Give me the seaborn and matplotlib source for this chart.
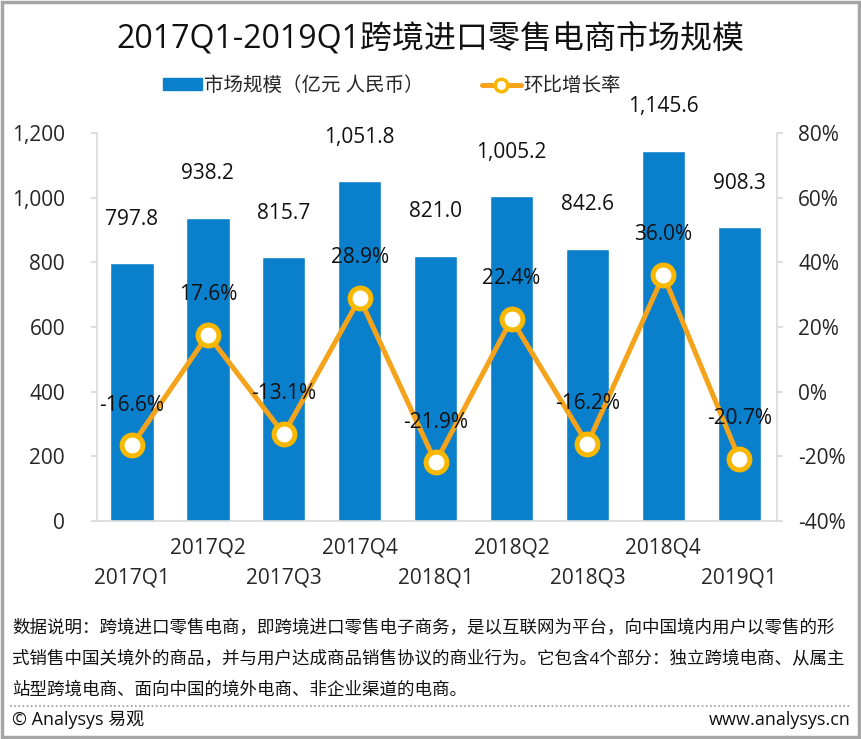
import numpy as np
import pandas as pd
import matplotlib
matplotlib.use("Agg")
import matplotlib.pyplot as plt
import seaborn as sns
from matplotlib.patches import Rectangle
from matplotlib.lines import Line2D
from matplotlib.patches import Patch

quarters = ["2017Q1", "2017Q2", "2017Q3", "2017Q4", "2018Q1",
            "2018Q2", "2018Q3", "2018Q4", "2019Q1"]
market_size = [797.8, 938.2, 815.7, 1051.8, 821.0, 1005.2, 842.6, 1145.6, 908.3]
growth = [-16.6, 17.6, -13.1, 28.9, -21.9, 22.4, -16.2, 36.0, -20.7]

title = "2017Q1-2019Q1跨境进口零售电商市场规模"
bar_name = "市场规模（亿元 人民币）"
line_name = "环比增长率"
note_lines = [
    "数据说明：跨境进口零售电商，即跨境进口零售电子商务，是以互联网为平台，向中国境内用户以零售的形",
    "式销售中国关境外的商品，并与用户达成商品销售协议的商业行为。它包含4个部分：独立跨境电商、从属主",
    "站型跨境电商、面向中国的境外电商、非企业渠道的电商。",
]

df = pd.DataFrame({"quarter": quarters, "size": market_size, "growth": growth})

sns.set_theme(style="white")
# Latin glyphs from Open Sans, Chinese from Noto Sans CJK
plt.rcParams["font.family"] = ["Open Sans", "Noto Sans CJK SC", "DejaVu Sans"]

blue = "#0A7FCB"
orange = "#F5A31A"
marker_edge = "#F9B800"

fig = plt.figure(figsize=(8.61, 7.39), dpi=100)
ax = fig.add_axes([0.1127, 0.295, 0.79, 0.525])

sns.barplot(data=df, x="quarter", y="size", color=blue, width=0.57,
            saturation=1, ax=ax)
ax.set_ylim(0, 1200)
ax.set_xlim(-0.46, len(quarters) - 0.5)
ax.set_yticks(np.arange(0, 1201, 200))
ax.set_yticklabels([f"{v:,}" for v in range(0, 1201, 200)], fontsize=15)
ax.set_xlabel("")
ax.set_ylabel("")
ax.bar_label(ax.containers[0], labels=[f"{v:,.1f}" for v in market_size],
             padding=24, fontsize=15, color="#111111")

# staggered quarter labels: Q1/Q3 on the lower row, Q2/Q4 on the upper row
ax.set_xticks(range(len(quarters)))
ax.set_xticklabels(quarters, fontsize=15)
ax.tick_params(axis="x", length=0)
for i, tick in enumerate(ax.xaxis.get_major_ticks()):
    tick.set_pad(12 if i % 2 else 33.5)
ax.tick_params(axis="y", length=4, color="#D9D9D9", pad=19, left=True)

for side in ["top", "right"]:
    ax.spines[side].set_visible(False)
for side in ["left", "bottom"]:
    ax.spines[side].set_color("#D9D9D9")
    ax.spines[side].set_linewidth(1.2)

ax2 = ax.twinx()
sns.lineplot(x=np.arange(len(quarters)), y=growth, ax=ax2, color=orange,
             linewidth=3.6, marker="o", markersize=15, markerfacecolor="white",
             markeredgecolor=marker_edge, markeredgewidth=3.6, zorder=5)
ax2.set_ylim(-40, 80)
ax2.set_yticks(np.arange(-40, 81, 20))
ax2.set_yticklabels([f"{v}%" for v in range(-40, 81, 20)], fontsize=15)
ax2.tick_params(axis="y", length=4, color="#D9D9D9", pad=11, right=True)
for side in ["top", "left", "bottom"]:
    ax2.spines[side].set_visible(False)
ax2.spines["right"].set_color("#D9D9D9")
ax2.spines["right"].set_linewidth(1.2)
for i, g in enumerate(growth):
    ax2.annotate(f"{g:.1f}%", (i, g), xytext=(0, 29), textcoords="offset points",
                 ha="center", va="center", fontsize=15, color="#111111", zorder=6)

fig.text(0.5, 0.946, title, ha="center", va="center", fontsize=23, color="#111111")

handles = [Patch(color=blue),
           Line2D([], [], color=orange, linewidth=3.6, marker="o", markersize=9,
                  markerfacecolor="white", markeredgecolor=marker_edge,
                  markeredgewidth=2.5)]
fig.legend(handles, [bar_name, line_name], loc="center", bbox_to_anchor=(0.455, 0.884),
           ncol=2, frameon=False, fontsize=14, handlelength=2.0, handleheight=0.6,
           handletextpad=0.1, columnspacing=3.0)

for k, line in enumerate(note_lines):
    fig.text(0.014, 1 - (628 + 31 * k) / 739, line, ha="left", va="center",
             fontsize=12.6, color="#111111")

fig.add_artist(Line2D([0.012, 0.988], [1 - 706 / 739] * 2, color="#999999",
                      linewidth=1.2, linestyle=(0, (1, 1.5))))
fig.text(0.014, 1 - 720 / 739, "© Analysys 易观", ha="left", va="center",
         fontsize=13, color="#111111")
fig.text(0.988, 1 - 720 / 739, "www.analysys.cn", ha="right", va="center",
         fontsize=13, color="#111111")

fig.add_artist(Rectangle((0.002, 0.003), 0.996, 0.994, transform=fig.transFigure,
                         fill=False, edgecolor="#A6A6A6", linewidth=2.5))

fig.savefig("out.png", dpi=100)
